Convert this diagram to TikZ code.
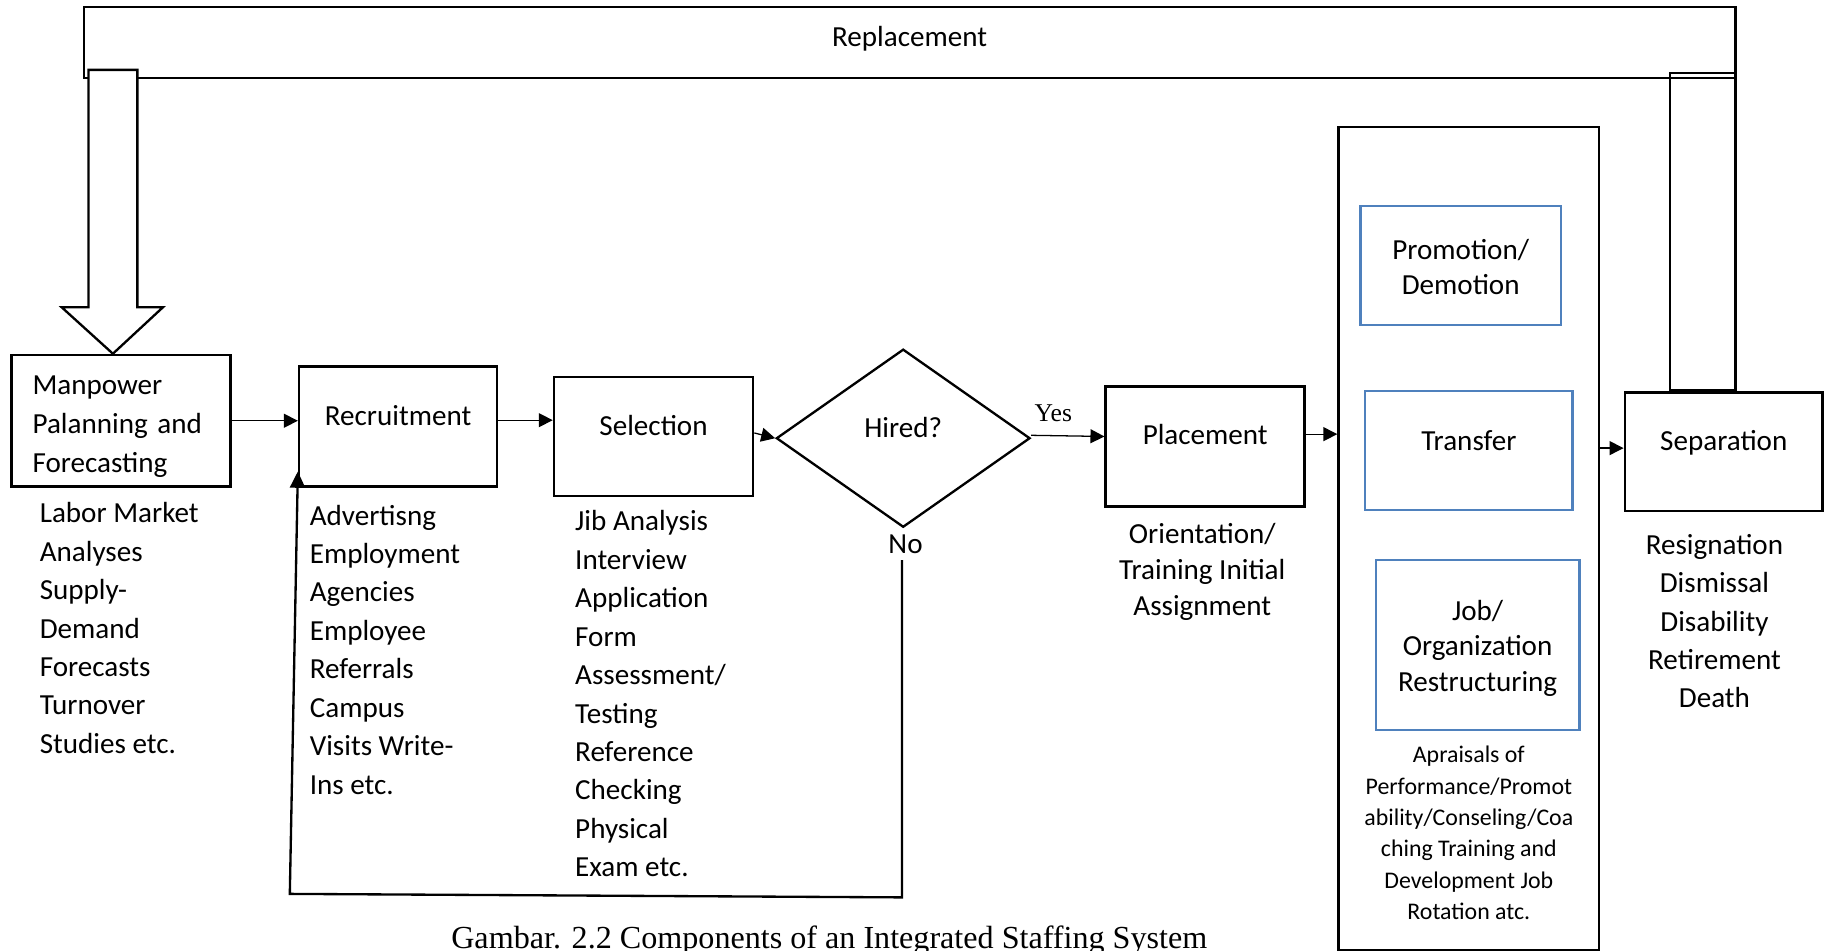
\documentclass[tikz,border=0pt]{standalone}
\usepackage{fontspec}
\setmainfont{Carlito}
\newfontfamily\seriffont{Liberation Serif}
\usetikzlibrary{arrows.meta,shapes.geometric,calc}
\definecolor{boxblue}{RGB}{79,129,189}
\begin{document}
\begin{tikzpicture}[x=1pt,y=-1pt,
  box/.style={draw=black,line width=2.2pt,rectangle,inner sep=0pt,align=center,
    font=\fontsize{25}{33}\selectfont},
  bluebox/.style={box,draw=boxblue,line width=2pt},
  oneline/.style={text height=16pt,text depth=#1},
  lbl/.style={inner sep=0pt,font=\fontsize{25}{33}\selectfont},
  conn/.style={line width=1.1pt,-{Triangle[length=12pt,width=12pt]}},
  loopline/.style={line width=2pt},
]
\useasboundingbox (0,0) rectangle (1568,817);

% replacement frame across the top
\node[box,line width=2pt,minimum width=1419pt,minimum height=61pt,
  text height=20pt,text depth=13pt] (repl) at (781.5,36.5) {Replacement};

% separation feeds back up into the frame
\node[box,line width=2pt,minimum width=56pt,minimum height=272pt] (sepbar) at (1463,199) {};

% main process boxes
\node[box,minimum width=188pt,minimum height=113pt,text width=152pt,align=left,
  font=\fontsize{25}{33.5}\selectfont] (mp) at (104,361.5)
  {\rule{0pt}{26pt}Manpower\\Palanning and\\Forecasting};
\node[box,minimum width=170pt,minimum height=103pt,oneline=17pt] (rec) at (342,366.5) {Recruitment};
\node[box,minimum width=171pt,minimum height=102pt,oneline=18pt] (sel) at (561.5,375) {Selection};
\node[draw,diamond,line width=2pt,inner sep=0pt,minimum width=218pt,minimum height=153pt,
  font=\fontsize{25}{33}\selectfont,oneline=17pt] (hired) at (776,376.5) {Hired?};
\node[box,minimum width=171pt,minimum height=103pt,oneline=19pt] (pl) at (1035.5,383.5) {Placement};
\node[box,line width=2pt,minimum width=224pt,minimum height=707pt] (tall) at (1262,462.5) {};
\node[bluebox,minimum width=172pt,minimum height=102pt,font=\fontsize{25}{30}\selectfont]
  (promo) at (1255,228) {\rule{0pt}{20pt}Promotion/\\Demotion};
\node[bluebox,minimum width=178pt,minimum height=102pt,oneline=16pt] (trans) at (1262,387) {Transfer};
\node[bluebox,minimum width=175pt,minimum height=146pt,font=\fontsize{25}{30.5}\selectfont]
  (job) at (1269.5,554) {\rule{0pt}{23pt}Job/\\Organization\\Restructuring};
\node[box,minimum width=170pt,minimum height=102pt,oneline=18pt] (sep) at (1481,388) {Separation};

% block arrow from the frame down to planning
\draw[line width=2pt,fill=white] (76,60) -- (118,60) -- (118,264) -- (140,264)
  -- (mp.north -| 97,0) -- (53,264) -- (76,264) -- cycle;

% flow connectors
\draw[conn] (mp.east) -- (rec.west |- mp.east);
\draw[conn] (rec.east |- 0,361) -- (sel.west |- 0,361);
\draw[conn] (sel.east |- 0,372) -- (hired.west);
\draw[conn] (hired.east |- 0,374) -- (pl.west |- 0,375);
\draw[conn] (pl.east |- 0,373) -- (tall.west |- 0,373);
\draw[conn] (tall.east |- 0,385) -- (sep.west |- 0,385);

\node[inner sep=0pt,font=\seriffont\fontsize{22}{26}\selectfont] (yes) at (905,355) {Yes};
\node[lbl] (no) at (778,468) {No};

% rejected candidates loop back to recruitment
\coordinate (loopR) at (775,771);
\coordinate (loopL) at (249,768);
\draw[loopline,-{Triangle[length=14pt,width=13pt]}]
  ([yshift=-5pt]no.south -| loopR) -- (loopR) -- (loopL) -- ([yshift=14pt]rec.south west);

% activity lists
\node[lbl,align=left,anchor=north west] (mplab) at (34,425.9)
  {\strut Labor Market\\Analyses\\Supply-\\Demand\\Forecasts\\Turnover\\Studies etc.};
\node[lbl,align=left,anchor=north west] (reclab) at (266,427.9)
  {\strut Advertisng\\Employment\\Agencies\\Employee\\Referrals\\Campus\\Visits Write-\\Ins etc.};
\node[lbl,align=left,anchor=north west] (sellab) at (494,432.9)
  {\strut Jib Analysis\\Interview\\Application\\Form\\Assessment/\\Testing\\Reference\\Checking\\Physical\\Exam etc.};
\node[lbl,align=center,anchor=north,font=\fontsize{25}{31}\selectfont] (pllab) at (1033,445.3)
  {\strut Orientation/\\Training Initial\\Assignment};
\node[lbl,align=center,anchor=north] (seplab) at (1473,452.9)
  {\strut Resignation\\Dismissal\\Disability\\Retirement\\Death};
\node[lbl,align=center,anchor=north,font=\fontsize{20.5}{27}\selectfont] (tallab) at (1262,636.1)
  {\strut Apraisals of\\Performance/Promot\\ability/Conseling/Coa\\ching Training and\\Development Job\\Rotation atc.};

% caption
\node[inner sep=0pt,anchor=base,font=\seriffont\fontsize{27.6}{32}\selectfont] (caption) at (712.5,815)
  {Gambar. 2.2 Components of an Integrated Staffing System};
\end{tikzpicture}
\end{document}
